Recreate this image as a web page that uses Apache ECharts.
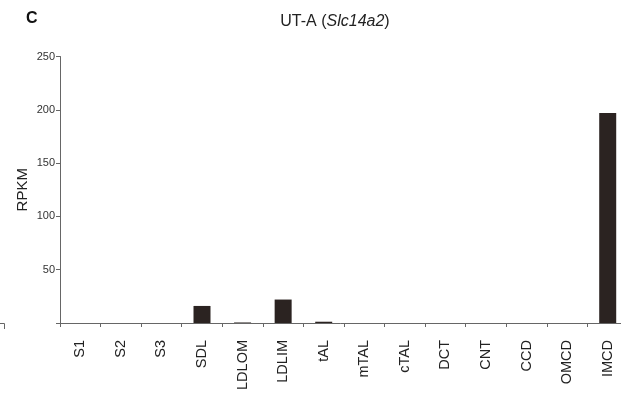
<!DOCTYPE html>
<html>
<head>
<meta charset="utf-8">
<script src="https://cdn.jsdelivr.net/npm/echarts@6/dist/echarts.min.js"></script>
<style>html,body{margin:0;padding:0;background:#fff}#c{width:621px;height:394px}</style>
</head>
<body>
<div id="c"></div>
<script>
var categories = ['S1','S2','S3','SDL','LDLOM','LDLIM','tAL','mTAL','cTAL','DCT','CNT','CCD','OMCD','IMCD'];
var rpkm = [0, 0, 0, 16, 0.5, 22, 1.2, 0, 0, 0, 0, 0, 0, 197];
var yTicks = [0, 50, 100, 150, 200, 250];

var chart = echarts.init(document.getElementById('c'), null, {renderer: 'canvas'});
var font = '"Liberation Sans", Arial, Helvetica, sans-serif';
chart.setOption({
  animation: false,
  backgroundColor: '#fff',
  title: [
    {text: 'C', left: 21, top: 6, textStyle: {fontFamily: font, fontSize: 16, fontWeight: 'bold', color: '#111'}},
    {text: '{n|UT-A (}{i|Slc14a2}{n|)}', left: 330, top: 9, textAlign: 'center',
     textStyle: {fontWeight: 'normal', rich: {
       n: {fontFamily: font, fontSize: 16, fontWeight: 'normal', color: '#222'},
       i: {fontFamily: font, fontSize: 16, fontWeight: 'normal', fontStyle: 'italic', color: '#222'}
     }}}
  ],
  grid: {left: 60, top: 56.5, bottom: 71, width: 568, outerBoundsMode: 'none', containLabel: false},
  xAxis: {
    type: 'category',
    data: categories,
    boundaryGap: true,
    axisLine: {lineStyle: {color: '#666', width: 1}},
    axisTick: {show: true, alignWithLabel: false, length: 4, lineStyle: {color: '#666'}},
    axisLabel: {rotate: 90, margin: 17, fontFamily: font, fontSize: 14.5, color: '#222', interval: 0}
  },
  yAxis: {
    type: 'value',
    min: yTicks[0], max: yTicks[yTicks.length - 1], interval: 50,
    name: 'RPKM', nameLocation: 'middle', nameRotate: 90, nameGap: 30, nameMoveOverlap: false,
    nameTextStyle: {fontFamily: font, fontSize: 15, color: '#222'},
    axisLine: {show: true, lineStyle: {color: '#666', width: 1}},
    axisTick: {show: true, length: 4, lineStyle: {color: '#666'}},
    splitLine: {show: false},
    axisLabel: {margin: 5, fontFamily: font, fontSize: 11, color: '#333',
      formatter: function (v) { return v === 0 ? '' : String(v); }}
  },
  series: [{
    type: 'bar',
    data: rpkm,
    barWidth: 17,
    itemStyle: {color: '#2b2321'}
  }],
  graphic: [{
    type: 'polyline',
    shape: {points: [[0, 323.5], [4.5, 323.5], [4.5, 329]]},
    style: {stroke: '#666', lineWidth: 1, fill: null}
  }]
});
</script>
</body>
</html>
